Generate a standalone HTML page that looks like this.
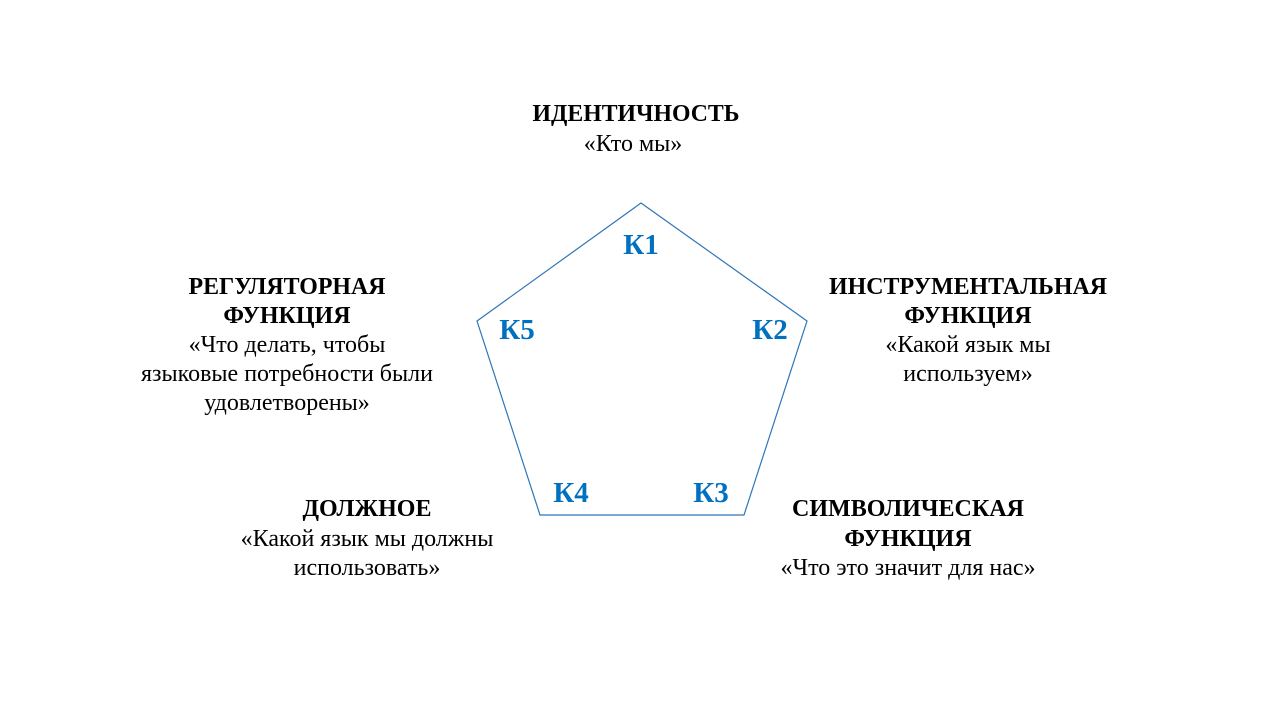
<!DOCTYPE html>
<html><head><meta charset="utf-8"><style>
html,body{margin:0;padding:0;background:#fff;}
svg{display:block;}
text{font-family:"Liberation Serif",serif;font-size:24px;fill:#000;}
.b{font-weight:bold;}
.k{font-weight:bold;font-size:29px;fill:#0070c0;}
</style></head><body>
<svg width="1280" height="720" viewBox="0 0 1280 720">
<polygon points="641,203 807,321 744,515 540,515 477,321" fill="none" stroke="#2e75b6" stroke-width="1.2"/>
<text class="k" x="641" y="254" text-anchor="middle">К1</text>
<text class="k" x="770" y="339" text-anchor="middle">К2</text>
<text class="k" x="711" y="502" text-anchor="middle">К3</text>
<text class="k" x="571" y="502" text-anchor="middle">К4</text>
<text class="k" x="517" y="339" text-anchor="middle">К5</text>

<g text-anchor="middle">
<text class="b" x="636" y="121" textLength="207" lengthAdjust="spacingAndGlyphs">ИДЕНТИЧНОСТЬ</text>
<text x="633" y="151">«Кто мы»</text>

<text class="b" x="287" y="294" textLength="197" lengthAdjust="spacingAndGlyphs">РЕГУЛЯТОРНАЯ</text>
<text class="b" x="287" y="323">ФУНКЦИЯ</text>
<text x="287" y="352">«Что делать, чтобы</text>
<text x="287" y="381">языковые потребности были</text>
<text x="287" y="410">удовлетворены»</text>

<text class="b" x="968" y="294" textLength="278" lengthAdjust="spacingAndGlyphs">ИНСТРУМЕНТАЛЬНАЯ</text>
<text class="b" x="968" y="323">ФУНКЦИЯ</text>
<text x="968" y="352">«Какой язык мы</text>
<text x="968" y="381">используем»</text>

<text class="b" x="367" y="516">ДОЛЖНОЕ</text>
<text x="367" y="546">«Какой язык мы должны</text>
<text x="367" y="575">использовать»</text>

<text class="b" x="908" y="516" textLength="232" lengthAdjust="spacingAndGlyphs">СИМВОЛИЧЕСКАЯ</text>
<text class="b" x="908" y="546">ФУНКЦИЯ</text>
<text x="908" y="575">«Что это значит для нас»</text>
</g>
</svg>
</body></html>
